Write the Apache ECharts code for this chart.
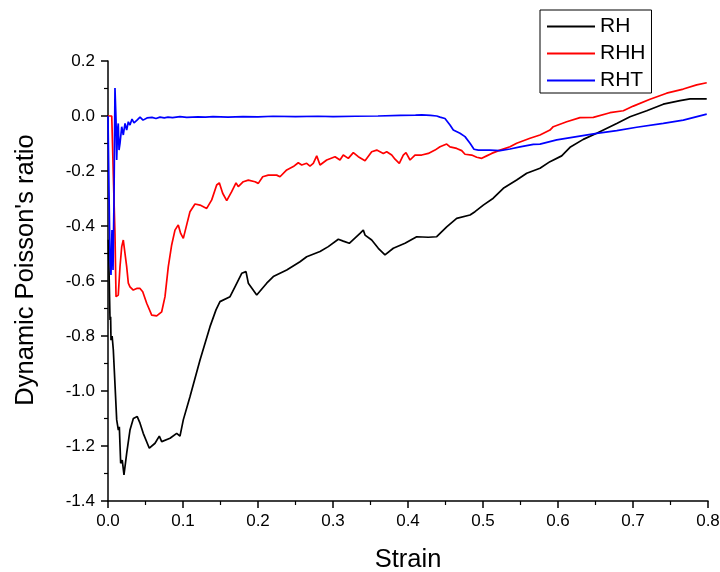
<!DOCTYPE html>
<html>
<head>
<meta charset="utf-8">
<script src="https://cdn.jsdelivr.net/npm/echarts@6/dist/echarts.min.js"></script>
<style>
html,body{margin:0;padding:0;background:#fff;}
#chart{width:720px;height:572px;}
</style>
</head>
<body>
<div id="chart"></div>
<script>
// ---- data ----
const seriesNames = ['RH', 'RHH', 'RHT'];
const xTicks = [0, 0.1, 0.2, 0.3, 0.4, 0.5, 0.6, 0.7, 0.8];
const yTicks = [-1.4, -1.2, -1.0, -0.8, -0.6, -0.4, -0.2, 0.0, 0.2];

// [strain, dynamic Poisson's ratio]
const rhData = [
  [0.0005,-0.45],[0.0015,-0.58],[0.0027,-0.742],[0.0035,-0.73],[0.004,-0.815],[0.0055,-0.80],
  [0.0071,-0.851],[0.0084,-0.924],[0.0116,-1.105],[0.0138,-1.142],[0.0151,-1.13],[0.0169,-1.263],
  [0.019,-1.251],[0.0213,-1.305],[0.0249,-1.227],[0.0293,-1.142],[0.0338,-1.10],[0.036,-1.105],
  [0.039,-1.093],[0.0427,-1.117],[0.047,-1.154],[0.0551,-1.208],[0.0627,-1.19],[0.0684,-1.164],
  [0.0716,-1.184],[0.0827,-1.172],[0.0916,-1.154],[0.096,-1.164],[0.1004,-1.105],[0.1093,-1.021],
  [0.1227,-0.887],[0.136,-0.766],[0.144,-0.705],[0.1493,-0.675],[0.1627,-0.657],[0.1693,-0.621],
  [0.1783,-0.572],[0.184,-0.566],[0.1871,-0.608],[0.1983,-0.651],[0.2116,-0.608],[0.2204,-0.584],
  [0.2383,-0.56],[0.256,-0.53],[0.2649,-0.512],[0.2827,-0.493],[0.2937,-0.475],[0.3071,-0.448],
  [0.3137,-0.455],[0.3217,-0.463],[0.336,-0.427],[0.3404,-0.415],[0.3427,-0.433],[0.3516,-0.451],
  [0.3604,-0.481],[0.3693,-0.505],[0.3804,-0.481],[0.396,-0.463],[0.4116,-0.439],[0.4271,-0.441],
  [0.4383,-0.439],[0.4516,-0.403],[0.4649,-0.372],[0.4827,-0.36],[0.4893,-0.348],[0.5004,-0.324],
  [0.5137,-0.299],[0.5271,-0.263],[0.5449,-0.233],[0.5583,-0.208],[0.576,-0.19],[0.5893,-0.166],
  [0.6049,-0.145],[0.616,-0.114],[0.6337,-0.085],[0.6516,-0.063],[0.6783,-0.027],[0.696,-0.003],
  [0.7183,0.019],[0.7404,0.043],[0.7627,0.056],[0.776,0.062],[0.7983,0.062]
];

const rhhData = [
  [0,0],[0.005,0.0],[0.0055,-0.05],[0.008,-0.305],[0.0093,-0.427],[0.0107,-0.657],[0.0137,-0.651],
  [0.016,-0.548],[0.0183,-0.475],[0.0204,-0.451],[0.0227,-0.457],[0.0249,-0.548],[0.0271,-0.608],
  [0.0293,-0.621],[0.0316,-0.615],[0.0337,-0.633],[0.0383,-0.627],[0.0427,-0.627],[0.0463,-0.639],
  [0.0516,-0.681],[0.0583,-0.724],[0.0649,-0.727],[0.0716,-0.712],[0.076,-0.657],[0.0804,-0.548],
  [0.0849,-0.469],[0.0893,-0.415],[0.0937,-0.396],[0.0969,-0.427],[0.1004,-0.445],[0.1049,-0.396],
  [0.1093,-0.348],[0.116,-0.32],[0.1227,-0.324],[0.1316,-0.336],[0.1383,-0.305],[0.1449,-0.251],
  [0.1484,-0.243],[0.1529,-0.281],[0.1583,-0.308],[0.1649,-0.275],[0.1707,-0.243],[0.1737,-0.257],
  [0.1804,-0.239],[0.1871,-0.233],[0.196,-0.239],[0.2004,-0.245],[0.2063,-0.221],[0.2137,-0.215],
  [0.2249,-0.215],[0.2293,-0.221],[0.2383,-0.196],[0.2471,-0.184],[0.2537,-0.17],[0.2583,-0.178],
  [0.2649,-0.172],[0.2693,-0.182],[0.2737,-0.172],[0.2783,-0.145],[0.2827,-0.178],[0.2916,-0.16],
  [0.3027,-0.148],[0.3093,-0.16],[0.3137,-0.142],[0.3204,-0.154],[0.3271,-0.133],[0.3337,-0.148],
  [0.3427,-0.163],[0.3516,-0.13],[0.3583,-0.124],[0.3671,-0.136],[0.3716,-0.13],[0.3783,-0.142],
  [0.3827,-0.157],[0.3884,-0.172],[0.3937,-0.142],[0.3973,-0.133],[0.4027,-0.16],[0.4093,-0.142],
  [0.4183,-0.142],[0.4271,-0.136],[0.436,-0.124],[0.4427,-0.112],[0.4516,-0.102],[0.456,-0.112],
  [0.4649,-0.118],[0.4716,-0.126],[0.476,-0.139],[0.4849,-0.142],[0.4916,-0.15],[0.4983,-0.154],
  [0.5049,-0.145],[0.5116,-0.136],[0.5227,-0.124],[0.536,-0.112],[0.5449,-0.099],[0.5627,-0.081],
  [0.576,-0.069],[0.5893,-0.051],[0.5937,-0.039],[0.6116,-0.021],[0.6293,-0.006],[0.6471,-0.005],
  [0.6693,0.012],[0.6871,0.019],[0.7004,0.036],[0.7227,0.061],[0.7449,0.083],[0.7671,0.098],
  [0.7849,0.113],[0.7983,0.121]
];

const rhtData = [
  [0,0.0],[0.0013,-0.269],[0.0027,-0.524],[0.004,-0.578],[0.0053,-0.415],[0.0067,-0.56],[0.008,-0.305],
  [0.0087,-0.087],[0.0093,0.102],[0.0107,-0.015],[0.0116,-0.16],[0.0127,-0.051],[0.0137,-0.027],
  [0.0147,-0.124],[0.016,-0.1],[0.0183,-0.039],[0.0204,-0.069],[0.0227,-0.027],[0.0249,-0.051],
  [0.0271,-0.021],[0.0293,-0.033],[0.032,-0.011],[0.0347,-0.025],[0.0387,-0.015],[0.0427,-0.004],
  [0.0467,-0.015],[0.052,-0.007],[0.0587,-0.005],[0.064,-0.009],[0.0693,-0.004],[0.075,-0.007],
  [0.08,-0.004],[0.086,-0.006],[0.096,-0.002],[0.105,-0.005],[0.12,-0.003],[0.13,-0.004],
  [0.14,-0.002],[0.16,-0.004],[0.18,-0.002],[0.2,-0.003],[0.22,-0.001],[0.25,-0.002],[0.28,-0.001],
  [0.3,-0.002],[0.33,-0.001],[0.36,0.0],[0.39,0.002],[0.41,0.003],[0.4183,0.004],[0.43,0.002],
  [0.4383,0.0],[0.4427,-0.004],[0.4493,-0.009],[0.456,-0.033],[0.4604,-0.051],[0.4693,-0.063],
  [0.476,-0.075],[0.4827,-0.099],[0.488,-0.121],[0.4937,-0.124],[0.5093,-0.124],[0.5227,-0.126],
  [0.536,-0.12],[0.5493,-0.112],[0.5671,-0.103],[0.576,-0.102],[0.5983,-0.087],[0.6249,-0.075],
  [0.6516,-0.063],[0.6783,-0.053],[0.7049,-0.041],[0.7404,-0.027],[0.7671,-0.015],[0.7983,0.007]
];

const seriesData = [rhData, rhhData, rhtData];
const seriesColors = ['#000000', '#ff0000', '#0000ff'];

// ---- chart ----
const FONT = '"Liberation Sans", Arial, sans-serif';
const fmt = v => (Math.abs(v) < 1e-9 ? '0.0' : v.toFixed(1));

const chart = echarts.init(document.getElementById('chart'), null, {renderer: 'canvas'});
chart.setOption({
  backgroundColor: '#ffffff',
  animation: false,
  textStyle: {fontFamily: FONT},
  grid: {left: 108, right: 12, top: 61, bottom: 71, containLabel: false, outerBoundsMode: 'none'},
  legend: {
    orient: 'vertical',
    left: 540, top: 10,
    data: seriesNames,
    itemWidth: 48, itemHeight: 20, itemGap: 6,
    padding: [6, 6, 2, 6],
    borderColor: '#000', borderWidth: 1,
    textStyle: {fontSize: 21, color: '#000', fontFamily: FONT},
    itemStyle: {opacity: 0}
  },
  xAxis: {
    type: 'value',
    min: xTicks[0], max: xTicks[xTicks.length - 1], interval: 0.1,
    name: 'Strain', nameLocation: 'middle', nameGap: 46,
    nameTextStyle: {fontSize: 25.5, color: '#000', fontFamily: FONT},
    axisLine: {onZero: false, lineStyle: {color: '#000', width: 1.5}},
    axisTick: {show: true, inside: false, length: 7, lineStyle: {color: '#000', width: 1.5}},
    minorTick: {show: true, splitNumber: 2, length: 4, lineStyle: {color: '#000', width: 1.2}},
    axisLabel: {fontSize: 17, color: '#000', margin: 12, formatter: fmt, fontFamily: FONT},
    splitLine: {show: false}
  },
  yAxis: {
    type: 'value',
    min: yTicks[0], max: yTicks[yTicks.length - 1], interval: 0.2,
    name: "Dynamic Poisson's ratio", nameLocation: 'middle', nameGap: 69,
    nameTextStyle: {fontSize: 25.5, color: '#000', fontFamily: FONT, padding: [0, 0, 0, 22]},
    axisLine: {onZero: false, lineStyle: {color: '#000', width: 1.5}},
    axisTick: {show: true, inside: false, length: 7, lineStyle: {color: '#000', width: 1.5}},
    minorTick: {show: true, splitNumber: 2, length: 4, lineStyle: {color: '#000', width: 1.2}},
    axisLabel: {fontSize: 17, color: '#000', margin: 13, formatter: fmt, fontFamily: FONT},
    splitLine: {show: false}
  },
  series: seriesNames.map((n, i) => ({
    name: n,
    type: 'line',
    data: seriesData[i],
    symbol: 'none',
    smooth: false,
    color: seriesColors[i],
    lineStyle: {color: seriesColors[i], width: 1.7},
    clip: true
  }))
});
</script>
</body>
</html>
